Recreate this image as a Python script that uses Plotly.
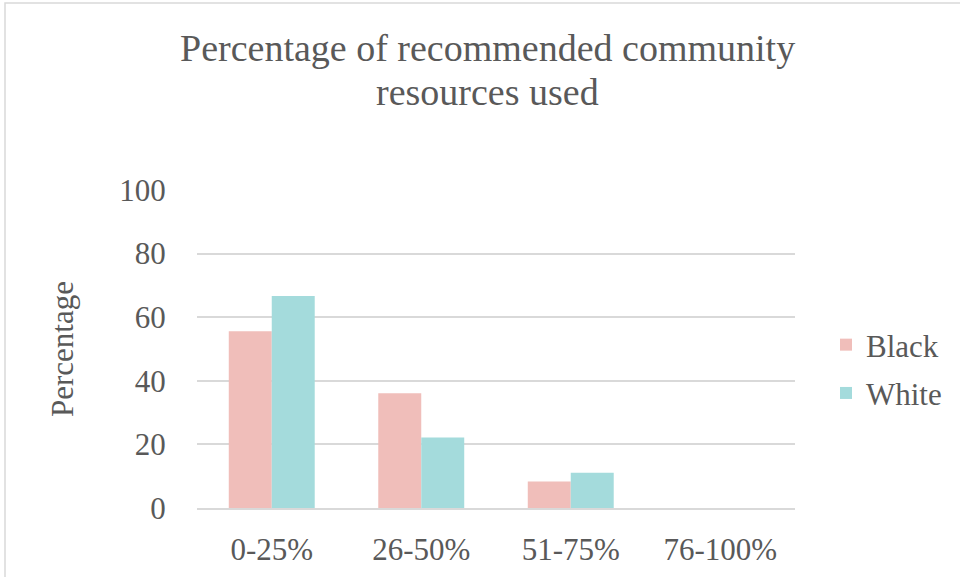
import plotly.graph_objects as go

# Share of recommended community resources used, by race
categories = ["0-25%", "26-50%", "51-75%", "76-100%"]
black_pct = [55.6, 36.1, 8.3, 0]
white_pct = [66.7, 22.2, 11.1, 0]
y_ticks = [0, 20, 40, 60, 80, 100]
title_lines = ["Percentage of recommended community", "resources used"]

PINK = "#F0BEBA"
TEAL = "#A4DBDC"
TEXT = "#595959"
GRID = "#D9D9D9"
FONT = "Liberation Serif"

W, H = 960, 577
L, R, T, B = 197, 165, 190, 69
PW, PH = W - L - R, H - T - B


def px_x(p):
    return (p - L) / PW


def px_y(p):
    return (H - B - p) / PH


fig = go.Figure()
fig.add_trace(go.Bar(name="Black", x=categories, y=black_pct,
                     marker=dict(color=PINK, line=dict(width=0)),
                     legendgroup="b"))
fig.add_trace(go.Bar(name="White", x=categories, y=white_pct,
                     marker=dict(color=TEAL, line=dict(width=0)),
                     legendgroup="w"))

fig.update_layout(
    width=W, height=H,
    margin=dict(l=L, r=R, t=T, b=B, autoexpand=False),
    paper_bgcolor="white", plot_bgcolor="white",
    font=dict(family=FONT, size=31, color=TEXT),
    barmode="group", bargap=0.425, bargroupgap=0,
    legend=dict(x=px_x(826), xanchor="left", y=px_y(369), yanchor="middle",
                font=dict(size=31, color=TEXT, family=FONT), tracegroupgap=5,
                bgcolor="rgba(0,0,0,0)"),
    showlegend=True,
)

fig.update_xaxes(showgrid=False, showline=True, linecolor=GRID, linewidth=1.5,
                 ticks="outside", ticklen=13, tickcolor="rgba(0,0,0,0)",
                 tickfont=dict(size=31, color=TEXT, family=FONT))
fig.update_yaxes(range=[0, 100], tickvals=y_ticks, showgrid=True,
                 gridcolor=GRID, gridwidth=1.5, zeroline=False, showline=False,
                 ticks="outside", ticklen=24, tickcolor="rgba(0,0,0,0)",
                 tickfont=dict(size=31, color=TEXT, family=FONT))

# Two-line chart title
for line, cy in zip(title_lines, [48, 92]):
    fig.add_annotation(text=line, showarrow=False,
                       xref="paper", yref="paper", x=px_x(487.5), y=px_y(cy),
                       xanchor="center", yanchor="middle",
                       font=dict(size=38, color=TEXT, family=FONT))

fig.add_annotation(text="Percentage", textangle=-90, showarrow=False,
                   xref="paper", yref="paper", x=px_x(62), y=0.5,
                   xanchor="center", yanchor="middle",
                   font=dict(size=31, color=TEXT, family=FONT))

# Chart frame
fig.add_shape(type="rect", xref="paper", yref="paper",
              x0=px_x(5), x1=px_x(990), y0=px_y(600), y1=px_y(3),
              line=dict(color=GRID, width=1.5), fillcolor="rgba(0,0,0,0)",
              layer="below")

fig.write_html("out.html")
